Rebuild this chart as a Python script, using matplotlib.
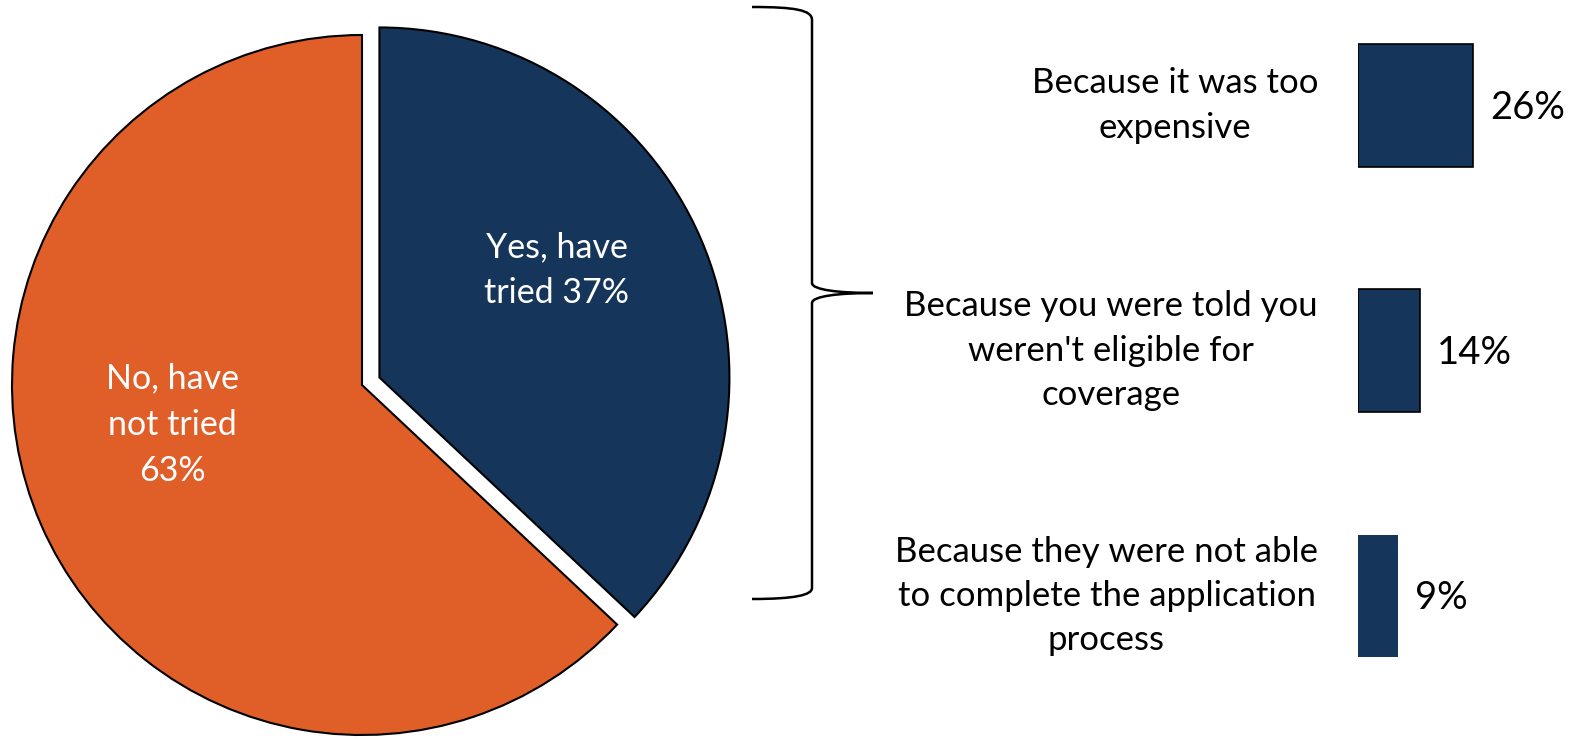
import matplotlib
matplotlib.use('Agg')
import matplotlib.pyplot as plt
from matplotlib.path import Path
from matplotlib.patches import PathPatch

plt.rcParams['font.family'] = ['Lato', 'DejaVu Sans']

# Pie: have you tried to get coverage
pie_labels = ['Yes, have\ntried 37%', 'No, have\nnot tried\n63%']
pie_values = [37, 63]
pie_colors = ['#15355A', '#E05E28']

# Bars: reasons among those who tried
reasons = ['Because it was too\nexpensive',
           "Because you were told you\nweren't eligible for\ncoverage",
           'Because they were not able\nto complete the application\nprocess']
reason_values = [26, 14, 9]
bar_edges = ['black', 'black', 'none']

W, H = 1570, 740
fig = plt.figure(figsize=(W / 100, H / 100), dpi=100)

# full-figure axes in pixel units (y up)
ax = fig.add_axes([0, 0, 1, 1])
cx, cy, r = 362, 740 - 385, 350
wedges, _ = ax.pie(pie_values, colors=pie_colors, startangle=90, counterclock=False,
                   center=(cx, cy), radius=r, explode=[19, 0],
                   wedgeprops=dict(edgecolor='black', linewidth=1.5))
ax.set_xlim(0, W)
ax.set_ylim(0, H)
ax.set_aspect('equal')
ax.axis('off')

txt = dict(color='white', fontsize=24.5, ha='center', va='center', linespacing=1.55)
ax.text(557, 740 - 270, pie_labels[0], **txt)
ax.text(172, 740 - 425, pie_labels[1], **txt)

# curly bracket
verts = [(752, 733), (795, 733), (812, 730), (812, 720),
         (812, 457),
         (812, 450), (840, 447), (873, 447),
         (840, 447), (812, 444), (812, 437),
         (812, 152),
         (812, 145), (795, 141), (752, 141)]
codes = [Path.MOVETO, Path.CURVE4, Path.CURVE4, Path.CURVE4,
         Path.LINETO,
         Path.CURVE4, Path.CURVE4, Path.CURVE4,
         Path.CURVE4, Path.CURVE4, Path.CURVE4,
         Path.LINETO,
         Path.CURVE4, Path.CURVE4, Path.CURVE4]
ax.add_patch(PathPatch(Path(verts, codes), facecolor='none', edgecolor='black', linewidth=1.8))

# bar axes: x scale ~4.42 px per percent, rows 245 px apart
bx = fig.add_axes([1358 / W, 0, 140 / W, 1])
bx.barh(range(len(reason_values)), reason_values, height=0.5, color='#15355A',
        edgecolor=bar_edges, linewidth=1.2)
bx.set_xlim(0, 140 / 4.42)
bx.set_ylim((740 - 105.5) / 245.25, -105.5 / 245.25)
bx.axis('off')
for i, v in enumerate(reason_values):
    bx.text(v + 3.9, i + 0.01, f'{v}%', fontsize=27.5, va='center', ha='left', clip_on=False)
    ax.text(1318, 740 - (105.5 + 245.25 * i), reasons[i], fontsize=25, ha='right', va='center',
            multialignment='center', linespacing=1.48)

fig.savefig('out.png', dpi=100)
